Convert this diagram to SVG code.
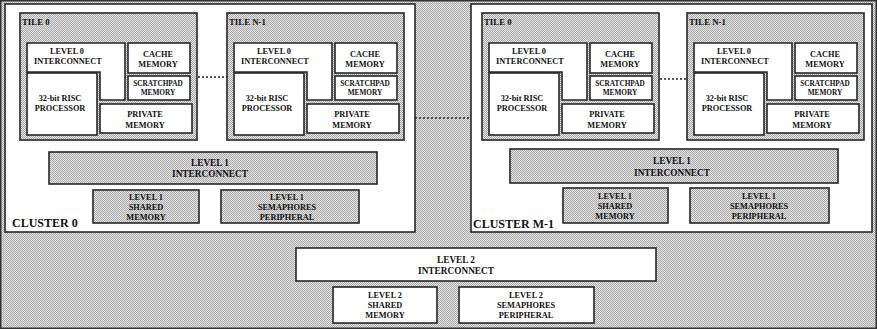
<svg xmlns="http://www.w3.org/2000/svg" xmlns:xlink="http://www.w3.org/1999/xlink" width="877" height="329" viewBox="0 0 877 329">
  <defs>
    <!-- stipple fill used for the background, tiles and level-1 blocks -->
    <pattern id="stipple" x="0" y="0" width="2" height="2" patternUnits="userSpaceOnUse">
      <rect width="2" height="2" fill="#e6e6e6"/>
      <rect x="0" y="0" width="1" height="1" fill="#a8a8a8"/>
      <rect x="1" y="1" width="1" height="1" fill="#a8a8a8"/>
    </pattern>

    <!-- one processing tile, drawn at the origin -->
    <g id="tile-body">
      <rect class="box hatch" x="0" y="0" width="177" height="127"/>
      <path class="box white" d="M7,30 H105 V87 H80 V59 H7 Z"/>
      <rect class="box white" x="7" y="60" width="70" height="62"/>
      <rect class="box white" x="108" y="30" width="62" height="30"/>
      <rect class="box white" x="108" y="63" width="62" height="24"/>
      <rect class="box white" x="80" y="91" width="92" height="29"/>
      <text class="t" x="47" y="41">LEVEL 0</text>
      <text class="t" x="48" y="51">INTERCONNECT</text>
      <text class="t" x="40" y="88">32-bit  RISC</text>
      <text class="t" x="40" y="98">PROCESSOR</text>
      <text class="t" x="138" y="44">CACHE</text>
      <text class="t" x="138" y="54">MEMORY</text>
      <text class="ts" x="138" y="73">SCRATCHPAD</text>
      <text class="ts" x="138" y="82">MEMORY</text>
      <text class="t" x="125" y="104">PRIVATE</text>
      <text class="t" x="125" y="115">MEMORY</text>
    </g>
  </defs>

  <style>
    .box { stroke: #262626; stroke-width: 1.6; }
    .hatch { fill: url(#stipple); }
    .white { fill: #ffffff; }
    .t { font-family: "Liberation Serif", "Times New Roman", serif; font-weight: bold; font-size: 8.3px; text-anchor: middle; fill: #111; }
    .ts { font-family: "Liberation Serif", "Times New Roman", serif; font-weight: bold; font-size: 7.3px; text-anchor: middle; fill: #111; }
    .tm { font-family: "Liberation Serif", "Times New Roman", serif; font-weight: bold; font-size: 9.3px; text-anchor: middle; fill: #111; }
    .lbl { font-family: "Liberation Serif", "Times New Roman", serif; font-weight: bold; font-size: 8.8px; fill: #111; }
    .cl { font-family: "Liberation Serif", "Times New Roman", serif; font-weight: bold; font-size: 12px; fill: #111; }
    .dots { stroke: #222; stroke-width: 1.5; stroke-dasharray: 2 2; fill: none; }
  </style>

  <!-- background frame -->
  <rect x="0.75" y="0.75" width="875.5" height="327.5" fill="url(#stipple)" stroke="#333" stroke-width="1.5"/>

  <!-- cluster 0 -->
  <g id="cluster-0">
    <rect class="box white" x="5" y="4" width="410" height="228"/>
    <text class="cl" x="12" y="227">CLUSTER 0</text>
  </g>
  <g id="c0-tile-0" transform="translate(20,13)">
    <use xlink:href="#tile-body"/>
    <text class="lbl" x="2" y="12">TILE 0</text>
  </g>
  <g id="c0-tile-n1" transform="translate(227,13)">
    <use xlink:href="#tile-body"/>
    <text class="lbl" x="2" y="12">TILE  N-1</text>
  </g>
  <g id="c0-l1-interconnect">
    <rect class="box hatch" x="49" y="152" width="328" height="32"/>
    <text class="tm" x="210" y="166">LEVEL 1</text>
    <text class="tm" x="210" y="177">INTERCONNECT</text>
  </g>
  <g id="c0-l1-shared">
    <rect class="box hatch" x="93" y="190" width="106" height="33"/>
    <text class="t" x="146" y="200">LEVEL 1</text>
    <text class="t" x="146" y="210">SHARED</text>
    <text class="t" x="146" y="220">MEMORY</text>
  </g>
  <g id="c0-l1-semaphores">
    <rect class="box hatch" x="221" y="190" width="138" height="33"/>
    <text class="t" x="287" y="200">LEVEL 1</text>
    <text class="t" x="287" y="210">SEMAPHORES</text>
    <text class="t" x="287" y="220">PERIPHERAL</text>
  </g>

  <!-- cluster M-1 -->
  <g id="cluster-m1">
    <rect class="box white" x="471" y="4" width="401" height="228"/>
    <text class="cl" x="473" y="228">CLUSTER  M-1</text>
  </g>
  <g id="cm-tile-0" transform="translate(482,13)">
    <use xlink:href="#tile-body"/>
    <text class="lbl" x="2" y="12">TILE 0</text>
  </g>
  <g id="cm-tile-n1" transform="translate(687,13)">
    <use xlink:href="#tile-body"/>
    <text class="lbl" x="2" y="12">TILE  N-1</text>
  </g>
  <g id="cm-l1-interconnect">
    <rect class="box hatch" x="510" y="149" width="328" height="34"/>
    <text class="tm" x="672" y="164">LEVEL 1</text>
    <text class="tm" x="672" y="176">INTERCONNECT</text>
  </g>
  <g id="cm-l1-shared">
    <rect class="box hatch" x="563" y="188" width="105" height="35"/>
    <text class="t" x="615" y="199">LEVEL 1</text>
    <text class="t" x="615" y="209">SHARED</text>
    <text class="t" x="615" y="219">MEMORY</text>
  </g>
  <g id="cm-l1-semaphores">
    <rect class="box hatch" x="690" y="188" width="139" height="35"/>
    <text class="t" x="759" y="199">LEVEL 1</text>
    <text class="t" x="759" y="209">SEMAPHORES</text>
    <text class="t" x="759" y="219">PERIPHERAL</text>
  </g>

  <!-- level 2 -->
  <g id="l2-interconnect">
    <rect class="box white" x="296" y="248" width="360" height="33"/>
    <text class="tm" x="456" y="263">LEVEL 2</text>
    <text class="tm" x="456" y="274">INTERCONNECT</text>
  </g>
  <g id="l2-shared">
    <rect class="box white" x="333" y="287" width="104" height="36"/>
    <text class="t" x="385" y="298">LEVEL 2</text>
    <text class="t" x="385" y="308">SHARED</text>
    <text class="t" x="385" y="318">MEMORY</text>
  </g>
  <g id="l2-semaphores">
    <rect class="box white" x="459" y="287" width="135" height="36"/>
    <text class="t" x="526" y="298">LEVEL 2</text>
    <text class="t" x="526" y="308">SEMAPHORES</text>
    <text class="t" x="526" y="318">PERIPHERAL</text>
  </g>

  <!-- dotted links between tiles and between clusters -->
  <g id="connectors">
    <line class="dots" x1="198" y1="77" x2="227" y2="77"/>
    <line class="dots" x1="660" y1="79" x2="687" y2="79"/>
    <line class="dots" x1="415" y1="118" x2="471" y2="118"/>
  </g>
</svg>
